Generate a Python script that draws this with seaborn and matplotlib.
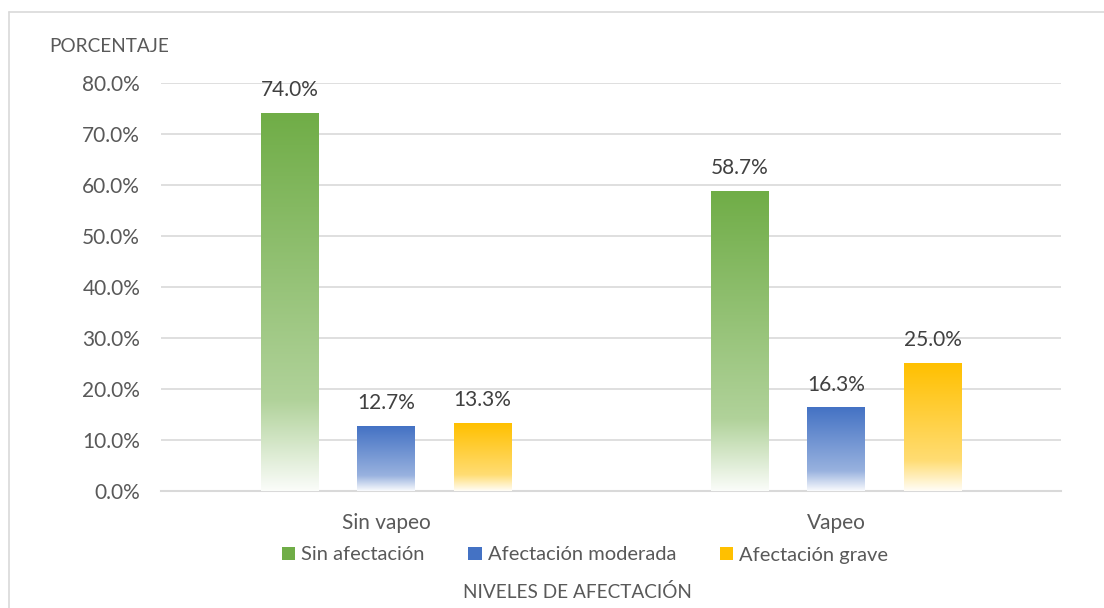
import numpy as np
import pandas as pd
import seaborn as sns
import matplotlib.pyplot as plt
from matplotlib.colors import to_rgb
from matplotlib.patches import Patch
from matplotlib.lines import Line2D

sns.set_style("white")
plt.rcParams['font.family'] = ['Lato', 'DejaVu Sans']

# datos
grupos = ["Sin vapeo", "Vapeo"]
niveles = ["Sin afectación", "Afectación moderada", "Afectación grave"]
sin_afectacion = [74.0, 58.7]
afectacion_moderada = [12.7, 16.3]
afectacion_grave = [13.3, 25.0]
colores = ["#70AD47", "#4472C4", "#FFC000"]

df = pd.DataFrame({
    "grupo": grupos * 3,
    "nivel": [n for n in niveles for _ in grupos],
    "valor": sin_afectacion + afectacion_moderada + afectacion_grave,
})

fig = plt.figure(figsize=(11.04, 6.08), dpi=100)
ax = fig.add_axes([161/1104, 1 - 491/608, 900/1104, 408/608])

sns.barplot(data=df, x="grupo", y="valor", hue="nivel", order=grupos,
            hue_order=niveles, palette=colores, width=0.643, gap=0.4,
            legend=False, ax=ax)


def degradado(color, n=256):
    c = np.array(to_rgb(color))
    w = np.ones(3)
    t = np.linspace(1, 0, n)  # 0 arriba, 1 abajo (fila 0 = abajo)
    filas = []
    for ti in t:
        if ti <= 0.76:
            f = 0.45 * ti / 0.76
        else:
            f = 0.45 + 0.52 * (ti - 0.76) / 0.24
        filas.append(c * (1 - f) + w * f)
    return np.array(filas).reshape(n, 1, 3)


# barras con degradado como en Excel
for i, p in enumerate(list(ax.patches)):
    col = colores[i // len(grupos)]
    x, w, h = p.get_x(), p.get_width(), p.get_height()
    p.set_visible(False)
    ax.imshow(degradado(col), extent=[x, x + w, 0, h], origin="lower",
              aspect="auto", zorder=3, interpolation="bilinear")
    ax.text(x + w / 2, h + 2.6, f"{h:.1f}%", ha="center", va="bottom",
            fontsize=15, color="#404040", zorder=4)

ax.set_xlim(-0.5, 1.5)
ax.set_ylim(0, 80)
ax.set_yticks(np.arange(0, 81, 10))
ax.set_yticklabels([f"{v:.1f}%" for v in np.arange(0, 81, 10)])
ax.grid(axis="y", color="#D9D9D9", linewidth=1.2, zorder=0)
ax.set_axisbelow(True)
for s in ["top", "right", "left"]:
    ax.spines[s].set_visible(False)
ax.spines["bottom"].set_color("#D9D9D9")
ax.spines["bottom"].set_linewidth(1.5)
ax.tick_params(axis="y", length=0, pad=15, labelsize=15, labelcolor="#595959")
ax.tick_params(axis="x", length=0, pad=16, labelsize=15, labelcolor="#595959")
ax.set_xlabel("")
ax.set_ylabel("")

fig.text(109/1104, 1 - 47/608, "PORCENTAJE", ha="center", va="center",
         fontsize=13.7, color="#595959")

handles = [Patch(facecolor=c, edgecolor="none") for c in colores]
fig.legend(handles, niveles, loc="center", bbox_to_anchor=(585/1104, 1 - 555/608),
           ncol=3, frameon=False, fontsize=14.5, labelcolor="#595959",
           handlelength=0.65, handleheight=0.65, handletextpad=0.3,
           columnspacing=2.2)

fig.text(577/1104, 1 - 592/608, "NIVELES DE AFECTACIÓN", ha="center",
         va="center", fontsize=13.7, color="#595959")

# borde del área del gráfico
fig.add_artist(Line2D([9/1104, 9/1104], [0, 1 - 12/608], color="#D9D9D9",
                      linewidth=1.2, transform=fig.transFigure))
fig.add_artist(Line2D([9/1104, 1], [1 - 12/608, 1 - 12/608], color="#D9D9D9",
                      linewidth=1.2, transform=fig.transFigure))

fig.savefig("out.png", dpi=100, facecolor="white")
